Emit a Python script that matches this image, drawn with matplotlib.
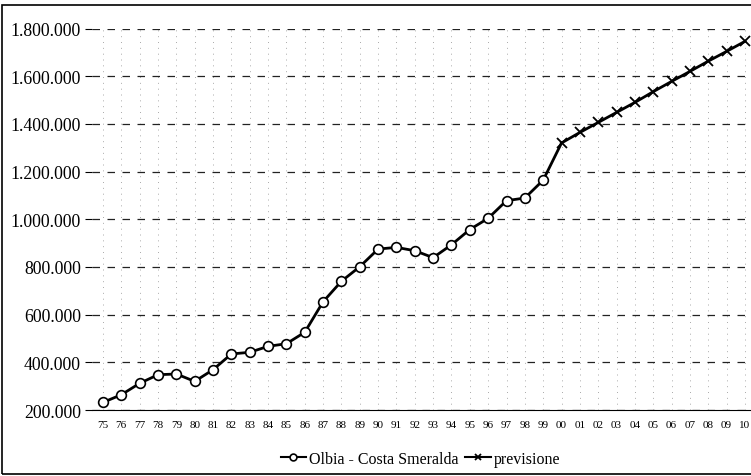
import matplotlib
matplotlib.use('Agg')
import matplotlib.pyplot as plt
from matplotlib.patches import Rectangle
from matplotlib.ticker import FuncFormatter

# anni 1975-2010 (etichette a due cifre)
anni = ['75', '76', '77', '78', '79', '80', '81', '82', '83', '84', '85', '86',
        '87', '88', '89', '90', '91', '92', '93', '94', '95', '96', '97', '98',
        '99', '00', '01', '02', '03', '04', '05', '06', '07', '08', '09', '10']

# passeggeri Olbia - Costa Smeralda (75..99)
olbia = [232000, 264000, 312000, 348000, 351000, 320000, 369000, 435000,
         442000, 467000, 478000, 526000, 654000, 740000, 801000, 875000,
         882000, 868000, 839000, 893000, 957000, 1004000, 1078000, 1089000,
         1164000]
# previsione (00..10)
previsione = [1320000, 1364000, 1406000, 1448000, 1490000, 1535000, 1578000,
              1620000, 1663000, 1704000, 1746000]

plt.rcParams['font.family'] = ['Liberation Serif', 'DejaVu Serif']

fig = plt.figure(figsize=(7.51, 4.77), dpi=100)
ax = fig.add_axes([92 / 751, 1 - 411 / 477, (751 - 92) / 751, (411 - 29.5) / 477])

x_olbia = list(range(len(olbia)))
x_prev = list(range(len(olbia), len(olbia) + len(previsione)))
# la previsione parte dall'ultimo dato osservato
ax.plot([x_olbia[-1], x_prev[0]], [olbia[-1], previsione[0]], color='black', lw=2)
ax.plot(x_olbia, olbia, color='black', lw=2, marker='o', ms=7,
        mfc='white', mec='black', mew=1.2, label='Olbia - Costa Smeralda', zorder=3)
ax.plot(x_prev, previsione, color='black', lw=2, marker='x', ms=7,
        mew=1.3, label='previsione', zorder=3)

ax.set_xlim(-0.6, len(anni) - 1 + 0.33)
ax.set_ylim(200000, 1800000)
ax.set_xticks(range(len(anni)))
ax.set_xticklabels(anni, fontsize=8)
ax.set_yticks(range(200000, 1800001, 200000))
ax.yaxis.set_major_formatter(FuncFormatter(lambda v, p: f'{int(v):,}'.replace(',', '.')))
ax.tick_params(axis='y', labelsize=12.8, length=5, width=0.8, pad=3)
ax.tick_params(axis='x', length=0, pad=7)

ax.grid(axis='y', color='#222222', lw=0.9, ls=(0, (6, 6)))
ax.grid(axis='x', color='#aaaaaa', lw=0.7, ls=(0, (1, 5)))
for s in ['top', 'right', 'left']:
    ax.spines[s].set_visible(False)
ax.spines['bottom'].set_linewidth(0.8)
ax.set_axisbelow(True)

leg = fig.legend(loc='center', bbox_to_anchor=(0.56, 1 - 460 / 477), ncol=2,
                 frameon=False, fontsize=11.5, handlelength=1.6, handletextpad=0.2,
                 columnspacing=0.4, markerscale=0.7)
for h in leg.legend_handles:
    h.set_linewidth(1.5)

fig.patches.append(Rectangle((2 / 751, 2 / 477), 1.2, 1 - 8 / 477,
                             transform=fig.transFigure, fill=False,
                             ec='black', lw=1.2))

fig.savefig('out.png', dpi=100)
